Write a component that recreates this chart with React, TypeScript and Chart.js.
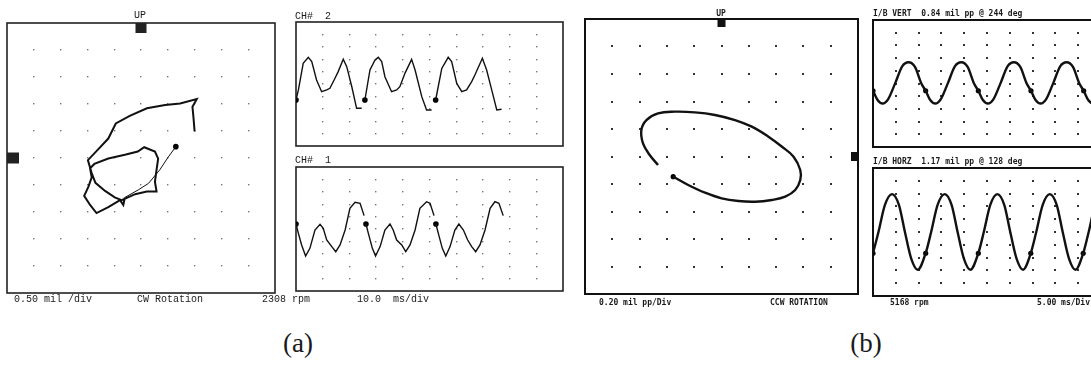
import React, { useEffect, useRef } from "react";
import { Chart, registerables } from "chart.js";

Chart.register(...registerables);

// ---------- (a) 2308 rpm, 0.50 mil/div, 10.0 ms/div ----------

// Unfiltered orbit, mils (first points: thin lead-in from the keyphasor mark)
const orbitAX = [0.65, 0.51, 0.35, 0.14, -0.05, -0.3, -0.33, -0.39, -0.61, -0.83, -0.95, -1.06, -0.98, -0.92, -0.95, -0.87, -0.61, -0.3, -0.06, 0.06, 0.26, 0.32, 0.29, 0.26, 0.29, 0.11, -0.11, -0.36, -0.49, -0.67, -0.85, -0.92, -0.99, -0.8, -0.61, -0.47, -0.21, 0.11, 0.45, 0.73, 1.04, 0.96, 0.98, 1.0];
const orbitAY = [0.21, 0.02, -0.22, -0.47, -0.59, -0.73, -0.87, -0.78, -0.91, -1.02, -0.87, -0.7, -0.53, -0.36, -0.19, -0.11, -0.01, 0.06, 0.12, 0.2, 0.12, -0.01, -0.22, -0.44, -0.62, -0.62, -0.67, -0.78, -0.73, -0.61, -0.46, -0.28, -0.04, 0.16, 0.36, 0.64, 0.78, 0.92, 0.98, 1.01, 1.09, 0.95, 0.74, 0.49];
const orbitALeadIn = 6;

// CH# 2 waveform: time (ms) and displacement (mils); null separates revolutions
const ch2Ms = [0, 0.9, 2.7, 4.6, 5.9, 7.7, 9.6, 11.5, 12.7, 14.6, 15.8, 17.7, 19.0, 20.9, 22.7, 24.6, null,
  25.8, 27.7, 29.6, 30.8, 32.1, 33.3, 35.8, 37.7, 38.9, 40.8, 43.3, 44.6, 47.1, 48.9, 50.8, null,
  52.3, 54.6, 57.0, 58.3, 60.2, 62.1, 63.9, 65.8, 67.0, 69.8, 71.4, 73.3, 75.2, 77.0];
const ch2Mil = [-0.645, -0.24, 0.835, 1.075, 0.9, 0.16, -0.31, -0.24, -0.175, 0.23, 0.5, 0.995, 0.7, -0.11, -0.98, -0.98, null,
  -0.645, 0.565, 0.97, 1.075, 0.9, 0.295, -0.31, -0.24, -0.11, 0.43, 0.995, 0.565, -0.51, -1.05, -1.05, null,
  -0.645, 0.63, 1.075, 0.9, 0.025, -0.31, -0.24, 0.095, 0.365, 1.035, 0.565, -0.24, -1.05, -1.02];
const ch2KeyMs = [0, 25.8, 52.3];
const ch2KeyMil = [-0.645, -0.645, -0.645];

// CH# 1 waveform
const ch1Ms = [0, 0.9, 2.1, 3.6, 5.2, 7.1, 9.0, 10.2, 11.5, 13.4, 14.9, 16.5, 18.4, 20.2, 22.1, 24.0, 25.5, null,
  26.2, 27.1, 28.6, 29.8, 31.5, 33.3, 35.2, 36.4, 37.7, 39.6, 41.1, 42.7, 44.6, 46.4, 48.9, 50.2, 51.7, null,
  52.4, 53.3, 54.8, 56.1, 57.7, 59.5, 61.0, 62.7, 64.3, 65.8, 67.3, 68.9, 70.8, 72.7, 74.5, 76.0, 77.6];
const ch1Mil = [0.2, -0.175, -0.645, -1.09, -0.78, -0.04, 0.19, 0.025, -0.445, -0.71, -0.915, -0.645, -0.04, 0.835, 1.075, 1.035, 0.54, null,
  0.2, -0.175, -0.78, -1.09, -0.71, -0.04, 0.2, -0.04, -0.445, -0.645, -0.915, -0.645, -0.04, 0.835, 1.1, 1.035, 0.54, null,
  0.2, -0.175, -0.78, -1.09, -0.71, -0.04, 0.2, -0.04, -0.445, -0.71, -0.915, -0.645, -0.04, 0.835, 1.1, 1.035, 0.54];
const ch1KeyMs = [0, 26.2, 52.4];
const ch1KeyMil = [0.2, 0.2, 0.2];

// ---------- (b) 5168 rpm, 0.20 mil pp/div, 5.00 ms/div ----------

// Filtered 1X orbit, mils
const orbitBX = [-0.354, -0.244, -0.121, 0.001, 0.124, 0.246, 0.369, 0.467, 0.54, 0.577, 0.577, 0.528, 0.443, 0.344, 0.222, 0.099, -0.048, -0.195, -0.342, -0.465, -0.55, -0.587, -0.575, -0.526, -0.465];
const orbitBY = [-0.147, -0.207, -0.263, -0.304, -0.324, -0.329, -0.316, -0.292, -0.244, -0.171, -0.098, -0.001, 0.071, 0.144, 0.217, 0.265, 0.302, 0.321, 0.326, 0.314, 0.265, 0.193, 0.096, 0.011, -0.062];

// I/B VERT filtered waveform
const vertMs = [0, 1.0, 2.1, 3.3, 4.9, 6.4, 7.8, 9.2, 10.6,
  11.55, 12.55, 13.65, 14.85, 16.45, 17.95, 19.35, 20.75, 22.15,
  23.1, 24.1, 25.2, 26.4, 28.0, 29.5, 30.9, 32.3, 33.7,
  34.65, 35.65, 36.75, 37.95, 39.55, 41.05, 42.45, 43.85, 45.25,
  46.2, 47.2, 48.3, 49.5, 51.1];
const vertMil = [-0.114, -0.26, -0.316, -0.25, 0.01, 0.27, 0.334, 0.26, 0.0,
  -0.114, -0.26, -0.316, -0.25, 0.01, 0.27, 0.334, 0.26, 0.0,
  -0.114, -0.26, -0.316, -0.25, 0.01, 0.27, 0.334, 0.26, 0.0,
  -0.114, -0.26, -0.316, -0.25, 0.01, 0.27, 0.334, 0.26, 0.0,
  -0.114, -0.26, -0.316, -0.25, 0.01];
const vertKeyMs = [0, 11.55, 23.1, 34.65, 46.2];
const vertKeyMil = [-0.114, -0.114, -0.114, -0.114, -0.114];

// I/B HORZ filtered waveform
const horzMs = [0, 1.2, 2.6, 4.17, 5.7, 7.0, 8.4, 9.8,
  11.55, 12.75, 14.15, 15.72, 17.25, 18.55, 19.95, 21.35,
  23.1, 24.3, 25.7, 27.27, 28.8, 30.1, 31.5, 32.9,
  34.6, 35.8, 37.2, 38.77, 40.3, 41.6, 43.0, 44.4,
  46.1, 47.3, 48.7, 50.27];
const horzMil = [-0.332, 0, 0.42, 0.592, 0.42, 0, -0.42, -0.59,
  -0.332, 0, 0.42, 0.592, 0.42, 0, -0.42, -0.59,
  -0.332, 0, 0.42, 0.592, 0.42, 0, -0.42, -0.59,
  -0.332, 0, 0.42, 0.592, 0.42, 0, -0.42, -0.59,
  -0.332, 0, 0.42, 0.592];
const horzKeyMs = [0, 11.55, 23.1, 34.6, 46.1];
const horzKeyMil = [-0.332, -0.332, -0.332, -0.332, -0.332];

// ---------- helpers ----------

const pts = (xs: (number | null)[], ys: (number | null)[]) =>
  xs.map((x, i) => ({ x: x as any, y: ys[i] as any }));

const PAD = 8;

// Frame, dotted graticule (10 x 10 divisions) and orbit reference marks
const scopeFrame = {
  id: "scopeFrame",
  beforeDatasetsDraw(chart: any, _args: any, opts: any) {
    const { ctx, chartArea: a, scales } = chart;
    const xs = scales.x;
    const ys = scales.y;
    ctx.save();
    ctx.fillStyle = opts.dotColor;
    const d = opts.dotSize;
    for (let i = 1; i < 10; i++) {
      const px = xs.getPixelForValue(xs.min + ((xs.max - xs.min) * i) / 10);
      for (let j = 1; j < 10; j++) {
        const py = ys.getPixelForValue(ys.min + ((ys.max - ys.min) * j) / 10);
        ctx.fillRect(Math.round(px - d / 2), Math.round(py - d / 2), d, d);
      }
    }
    ctx.strokeStyle = opts.frameColor;
    ctx.lineWidth = opts.frameWidth;
    ctx.strokeRect(a.left, a.top, a.right - a.left, a.bottom - a.top);
    ctx.fillStyle = opts.frameColor;
    if (opts.upMark) {
      const [w, h] = opts.upMark;
      const cx = xs.getPixelForValue((xs.min + xs.max) / 2);
      ctx.fillRect(cx - w / 2, a.top, w, h);
    }
    if (opts.sideMark) {
      const [w, h] = opts.sideMark;
      const cy = ys.getPixelForValue((ys.min + ys.max) / 2);
      const x0 = opts.side === "left" ? a.left : a.right - w;
      ctx.fillRect(x0, cy - h / 2, w, h);
    }
    ctx.restore();
  },
};

type Panel = {
  frame: [number, number, number, number];
  x: [number, number];
  y: [number, number];
  datasets: any[];
  frame2: any;
};

const trace = (data: any[], width: number, extra: any = {}) => ({
  data,
  showLine: true,
  borderColor: "#111",
  borderWidth: width,
  pointRadius: 0,
  spanGaps: false,
  tension: 0,
  ...extra,
});

const keyMarks = (data: any[], r: number) => ({
  data,
  showLine: false,
  pointRadius: r,
  pointBackgroundColor: "#000",
  pointBorderWidth: 0,
});

const aFrame = { frameColor: "#222", frameWidth: 1.6, dotColor: "#777", dotSize: 1.4 };
const bFrame = { frameColor: "#111", frameWidth: 2, dotColor: "#333", dotSize: 2 };

const panels: Panel[] = [
  {
    frame: [7, 23, 275, 293],
    x: [-2.5, 2.5],
    y: [-2.5, 2.5],
    datasets: [
      trace(pts(orbitAX.slice(0, orbitALeadIn), orbitAY.slice(0, orbitALeadIn)), 1),
      trace(pts(orbitAX.slice(orbitALeadIn - 1), orbitAY.slice(orbitALeadIn - 1)), 2),
      keyMarks(pts([orbitAX[0]], [orbitAY[0]]), 2.8),
    ],
    frame2: { ...aFrame, upMark: [11, 10], sideMark: [12, 11], side: "left" },
  },
  {
    frame: [296, 22, 563, 146],
    x: [0, 100],
    y: [-2.5, 2.5],
    datasets: [trace(pts(ch2Ms, ch2Mil), 1.4), keyMarks(pts(ch2KeyMs, ch2KeyMil), 2.8)],
    frame2: { ...aFrame },
  },
  {
    frame: [296, 167, 563, 291],
    x: [0, 100],
    y: [-2.5, 2.5],
    datasets: [trace(pts(ch1Ms, ch1Mil), 1.4), keyMarks(pts(ch1KeyMs, ch1KeyMil), 2.8)],
    frame2: { ...aFrame },
  },
  {
    frame: [585, 19, 858, 294],
    x: [-1, 1],
    y: [-1, 1],
    datasets: [
      trace(pts(orbitBX, orbitBY), 2.4, { tension: 0.4 }),
      keyMarks(pts([orbitBX[0]], [orbitBY[0]]), 2.6),
    ],
    frame2: { ...bFrame, upMark: [8, 8], sideMark: [7, 9], side: "right" },
  },
  {
    frame: [873, 20, 1101, 147],
    x: [0, 50],
    y: [-1, 1],
    datasets: [
      trace(pts(vertMs, vertMil), 2.4, { cubicInterpolationMode: "monotone" }),
      keyMarks(pts(vertKeyMs, vertKeyMil), 2.6),
    ],
    frame2: { ...bFrame },
  },
  {
    frame: [873, 168, 1101, 296],
    x: [0, 50],
    y: [-1, 1],
    datasets: [
      trace(pts(horzMs, horzMil), 2.4, { cubicInterpolationMode: "monotone" }),
      keyMarks(pts(horzKeyMs, horzKeyMil), 2.6),
    ],
    frame2: { ...bFrame },
  },
];

const A_FONT = '"Liberation Mono", "DejaVu Sans Mono", monospace';
const B_FONT = '"DejaVu Sans Mono", monospace';

type Lbl = { text: string; x: number; y: number; font: string; size: number; bold?: boolean; align?: "left" | "center" | "right"; color?: string };

const labels: Lbl[] = [
  { text: "UP", x: 140, y: 16, font: A_FONT, size: 10, align: "center" },
  { text: "CH#  2", x: 295, y: 17, font: A_FONT, size: 10 },
  { text: "CH#  1", x: 295, y: 161, font: A_FONT, size: 10 },
  { text: "0.50 mil /div", x: 14, y: 300, font: A_FONT, size: 10 },
  { text: "CW Rotation", x: 137, y: 300, font: A_FONT, size: 10 },
  { text: "2308 rpm", x: 262, y: 300, font: A_FONT, size: 10 },
  { text: "10.0  ms/div", x: 357, y: 300, font: A_FONT, size: 10 },
  { text: "UP", x: 721, y: 14, font: B_FONT, size: 8, bold: true, align: "center" },
  { text: "I/B VERT  0.84 mil pp @ 244 deg", x: 873, y: 14, font: B_FONT, size: 8, bold: true },
  { text: "I/B HORZ  1.17 mil pp @ 128 deg", x: 873, y: 162, font: B_FONT, size: 8, bold: true },
  { text: "0.20 mil pp/Div", x: 599, y: 303, font: B_FONT, size: 8, bold: true },
  { text: "CCW ROTATION", x: 770, y: 303, font: B_FONT, size: 8, bold: true },
  { text: "5168 rpm", x: 890, y: 303, font: B_FONT, size: 8, bold: true },
  { text: "5.00 ms/Div", x: 1090, y: 303, font: B_FONT, size: 8, bold: true, align: "right" },
  { text: "(a)", x: 298, y: 343, font: '"Liberation Serif", "Times New Roman", serif', size: 27, align: "center" },
  { text: "(b)", x: 866, y: 343, font: '"Liberation Serif", "Times New Roman", serif', size: 27, align: "center" },
];

export default function App() {
  const refs = useRef<(HTMLCanvasElement | null)[]>([]);

  useEffect(() => {
    const charts = panels.map((p, i) => {
      const canvas = refs.current[i]!;
      return new Chart(canvas, {
        type: "scatter",
        data: { datasets: p.datasets },
        options: {
          responsive: false,
          animation: false,
          events: [],
          layout: { padding: PAD },
          scales: {
            x: { type: "linear", min: p.x[0], max: p.x[1], display: false },
            y: { type: "linear", min: p.y[0], max: p.y[1], display: false },
          },
          plugins: {
            legend: { display: false },
            tooltip: { enabled: false },
            scopeFrame: p.frame2,
          } as any,
        },
        plugins: [scopeFrame],
      } as any);
    });
    return () => charts.forEach((c) => c.destroy());
  }, []);

  return (
    <div
      style={{
        position: "fixed",
        left: 0,
        top: 0,
        width: 1091,
        height: 367,
        overflow: "hidden",
        background: "#fff",
      }}
    >
      {panels.map((p, i) => {
        const [l, t, r, b] = p.frame;
        const w = r - l + 2 * PAD;
        const h = b - t + 2 * PAD;
        return (
          <canvas
            key={i}
            ref={(el) => {
              refs.current[i] = el;
            }}
            width={w}
            height={h}
            style={{ position: "absolute", left: l - PAD, top: t - PAD, width: w, height: h, display: "block" }}
          />
        );
      })}
      {labels.map((lb, i) => (
        <div
          key={"l" + i}
          style={{
            position: "absolute",
            top: lb.y,
            left: lb.align === "right" ? undefined : lb.x,
            right: lb.align === "right" ? 1091 - lb.x : undefined,
            transform:
              lb.align === "center" ? "translate(-50%, -50%)" : "translateY(-50%)",
            fontFamily: lb.font,
            fontSize: lb.size,
            fontWeight: lb.bold ? 700 : 400,
            color: lb.color ?? "#1a1a1a",
            whiteSpace: "pre",
            lineHeight: 1,
          }}
        >
          {lb.text}
        </div>
      ))}
    </div>
  );
}
